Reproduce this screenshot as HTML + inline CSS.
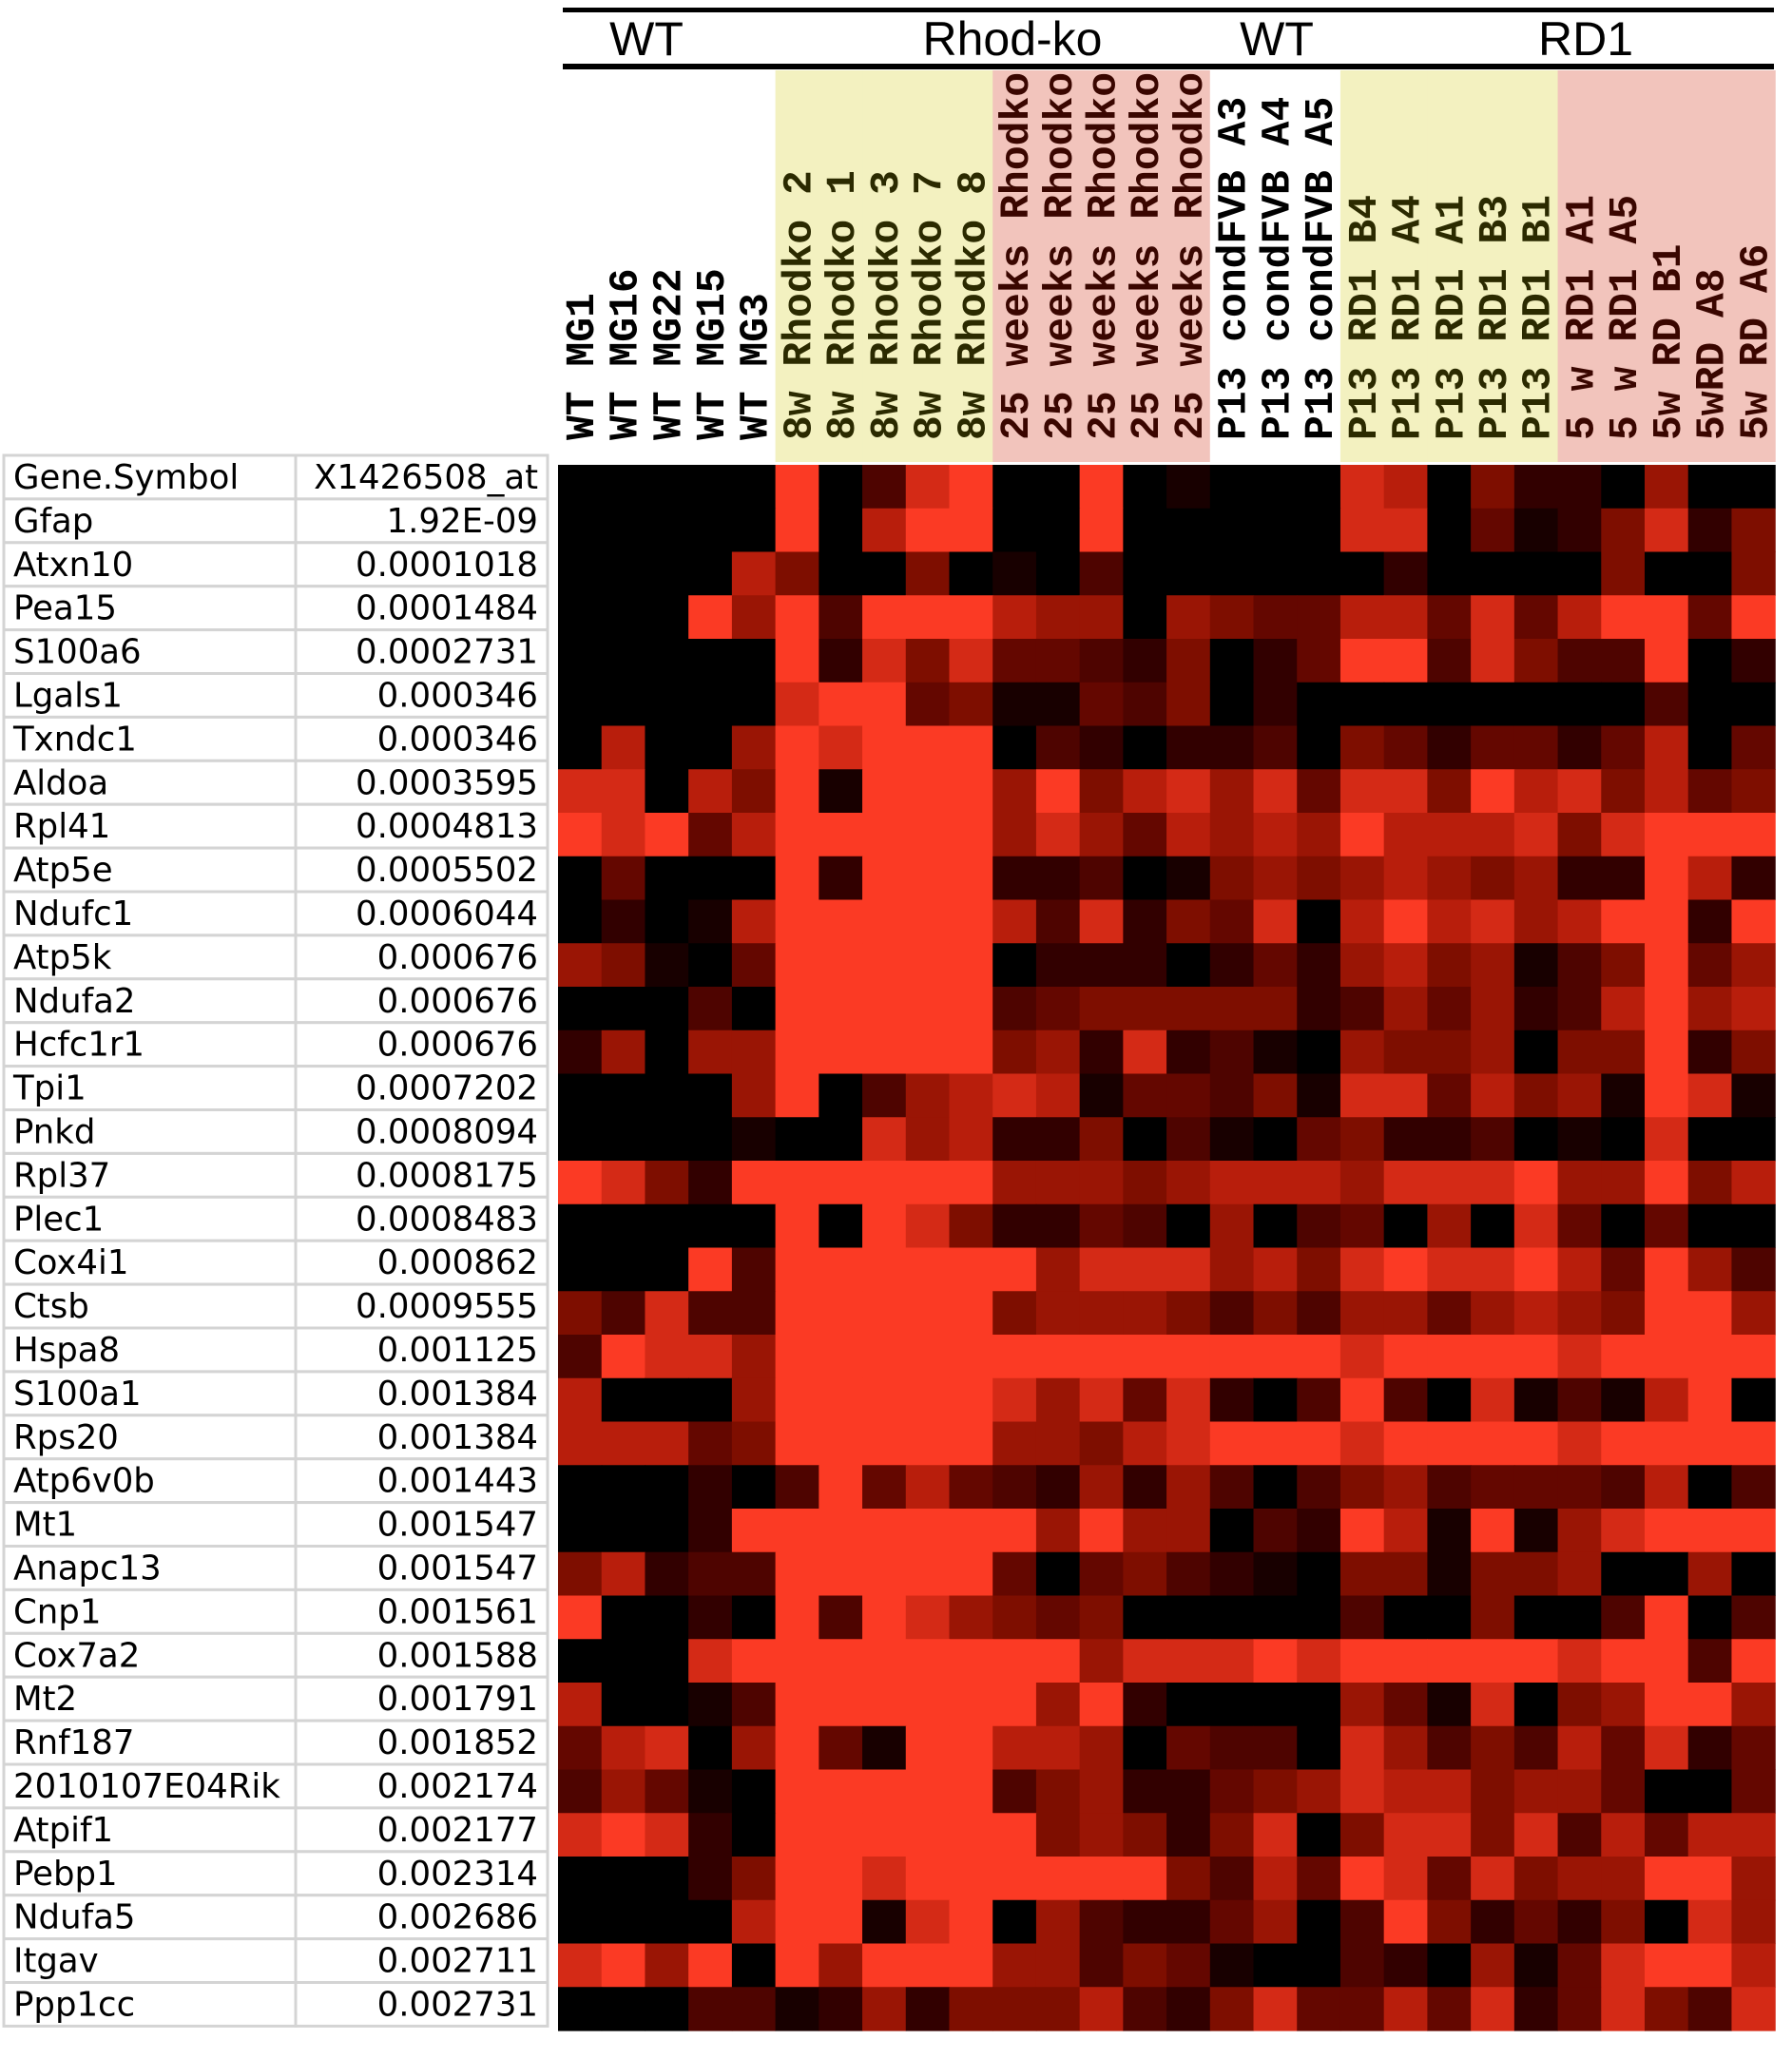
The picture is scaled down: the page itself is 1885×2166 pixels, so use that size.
<!DOCTYPE html>
<html><head><meta charset="utf-8"><style>
html,body{margin:0;padding:0;background:#fff;}
svg{display:block;}
</style></head><body>
<svg id="chart" width="1885" height="2166" viewBox="0 0 1885 2166" xmlns="http://www.w3.org/2000/svg">
<defs><clipPath id="labclip"><rect x="580" y="74" width="1300" height="410"/></clipPath></defs>
<g id="bg"></g>
<g id="heat"></g>
<g id="labels" clip-path="url(#labclip)"></g>
<g id="table"></g>
<g id="hdr"></g>
</svg>
<script>
const genes = ["Gene.Symbol","Gfap","Atxn10","Pea15","S100a6","Lgals1","Txndc1","Aldoa","Rpl41","Atp5e","Ndufc1","Atp5k","Ndufa2","Hcfc1r1","Tpi1","Pnkd","Rpl37","Plec1","Cox4i1","Ctsb","Hspa8","S100a1","Rps20","Atp6v0b","Mt1","Anapc13","Cnp1","Cox7a2","Mt2","Rnf187","2010107E04Rik","Atpif1","Pebp1","Ndufa5","Itgav","Ppp1cc"];
const pvals = ["X1426508_at","1.92E-09","0.0001018","0.0001484","0.0002731","0.000346","0.000346","0.0003595","0.0004813","0.0005502","0.0006044","0.000676","0.000676","0.000676","0.0007202","0.0008094","0.0008175","0.0008483","0.000862","0.0009555","0.001125","0.001384","0.001384","0.001443","0.001547","0.001547","0.001561","0.001588","0.001791","0.001852","0.002174","0.002177","0.002314","0.002686","0.002711","0.002731"];
const samples = ["WT MG1","WT MG16","WT MG22","WT MG15","WT MG3","8w Rhodko 2","8w Rhodko 1","8w Rhodko 3","8w Rhodko 7","8w Rhodko 8","25 weeks Rhodko","25 weeks Rhodko","25 weeks Rhodko","25 weeks Rhodko","25 weeks Rhodko","P13 condFVB A3","P13 condFVB A4","P13 condFVB A5","P13 RD1 B4","P13 RD1 A4","P13 RD1 A1","P13 RD1 B3","P13 RD1 B1","5 w RD1 A1","5 w RD1 A5","5w RD B1","5wRD A8","5w RD A6"];
const sampleGroup = [0,0,0,0,0,1,1,1,1,1,2,2,2,2,2,0,0,0,1,1,1,1,1,2,2,2,2,2];
const groupNames = ["WT","Rhod-ko","WT","RD1"];
const levels = [
[0,0,0,0,0,9,0,3,8,9,0,0,9,0,1,0,0,0,8,7,0,5,2,2,0,6,0,0],
[0,0,0,0,0,9,0,7,9,9,0,0,9,0,0,0,0,0,8,8,0,4,1,2,5,8,2,5],
[0,0,0,0,7,5,0,0,5,0,1,0,3,0,0,0,0,0,0,2,0,0,0,0,5,0,0,5],
[0,0,0,9,6,9,3,9,9,9,7,6,6,0,6,5,4,4,7,7,4,8,4,7,9,9,4,9],
[0,0,0,0,0,9,2,8,5,8,4,4,3,2,5,0,2,4,9,9,3,8,5,3,3,9,0,2],
[0,0,0,0,0,8,9,9,4,5,1,1,4,3,5,0,2,0,0,0,0,0,0,0,0,3,0,0],
[0,7,0,0,6,9,8,9,9,9,0,3,2,0,2,2,3,0,5,4,2,4,4,2,4,7,0,4],
[8,8,0,7,5,9,1,9,9,9,6,9,5,7,8,6,8,4,8,8,5,9,7,8,5,7,4,5],
[9,8,9,4,7,9,9,9,9,9,6,8,6,4,7,6,7,6,9,7,7,7,8,5,8,9,9,9],
[0,4,0,0,0,9,2,9,9,9,2,2,3,0,1,5,6,5,6,7,6,5,6,2,2,9,7,2],
[0,2,0,1,7,9,9,9,9,9,7,3,8,2,5,4,8,0,7,9,7,8,6,7,9,9,2,9],
[6,5,1,0,4,9,9,9,9,9,0,2,2,2,0,2,4,2,6,7,5,6,1,3,5,9,4,6],
[0,0,0,3,0,9,9,9,9,9,3,4,5,5,5,5,5,2,3,6,4,6,2,3,7,9,6,7],
[2,6,0,6,6,9,9,9,9,9,5,6,2,8,2,3,1,0,6,5,5,6,0,5,5,9,2,5],
[0,0,0,0,6,9,0,3,6,7,8,7,1,4,4,3,5,1,8,8,4,7,5,6,1,9,8,1],
[0,0,0,0,1,0,0,8,6,7,2,2,5,0,3,1,0,4,5,2,2,3,0,1,0,8,0,0],
[9,8,5,2,9,9,9,9,9,9,6,6,6,5,6,7,7,7,6,8,8,8,9,6,6,9,5,7],
[0,0,0,0,0,9,0,9,8,5,2,2,4,3,0,6,0,3,4,0,6,0,8,4,0,4,0,0],
[0,0,0,9,3,9,9,9,9,9,9,6,8,8,8,6,7,5,8,9,8,8,9,7,4,9,6,3],
[5,3,8,3,3,9,9,9,9,9,5,6,6,6,5,3,5,3,6,6,4,6,7,6,5,9,9,6],
[3,9,8,8,6,9,9,9,9,9,9,9,9,9,9,9,9,9,8,9,9,9,9,8,9,9,9,9],
[7,0,0,0,6,9,9,9,9,9,8,6,8,4,8,2,0,3,9,3,0,8,1,3,1,7,9,0],
[7,7,7,4,5,9,9,9,9,9,6,6,5,7,8,9,9,9,8,9,9,9,9,8,9,9,9,9],
[0,0,0,2,0,3,9,4,7,4,3,2,6,2,6,3,0,3,5,6,3,4,4,4,3,7,0,3],
[0,0,0,2,9,9,9,9,9,9,9,6,9,6,6,0,3,2,9,7,1,9,1,6,8,9,9,9],
[5,7,2,3,3,9,9,9,9,9,4,0,4,5,3,2,1,0,5,5,1,5,5,6,0,0,6,0],
[9,0,0,2,0,9,3,9,8,6,5,4,5,0,0,0,0,0,3,0,0,5,0,0,3,9,0,3],
[0,0,0,8,9,9,9,9,9,9,9,9,6,8,8,8,9,8,9,9,9,9,9,8,9,9,3,9],
[7,0,0,1,3,9,9,9,9,9,9,6,9,2,0,0,0,0,6,4,1,8,0,5,6,9,9,6],
[4,7,8,0,6,9,4,1,9,9,7,7,6,0,4,3,3,0,8,6,3,5,3,7,4,8,2,4],
[3,6,4,1,0,9,9,9,9,9,3,5,6,2,2,4,5,6,8,7,7,5,6,6,4,0,0,4],
[8,9,8,2,0,9,9,9,9,9,9,5,6,5,2,5,8,0,5,8,8,5,8,3,7,4,7,7],
[0,0,0,2,5,9,9,8,9,9,9,9,9,9,5,3,7,4,9,8,4,8,5,6,6,9,9,6],
[0,0,0,0,7,9,9,1,8,9,0,6,3,2,2,4,6,0,3,9,5,2,4,2,5,0,8,6],
[8,9,6,9,0,9,6,9,9,9,6,6,3,5,4,1,0,0,3,2,0,6,1,4,8,9,9,7],
[0,0,0,3,3,1,2,6,2,5,5,5,7,3,2,5,8,4,4,7,4,8,2,4,8,5,3,8]
];
const NS="http://www.w3.org/2000/svg";
const palette=["#000000","#180000","#320000","#4e0400","#640700","#7e0e00","#9a1505","#b81e0c","#d42a16","#fb3a24"];
const hx0=587, hw=45.72, hy0=489, hh=45.75;
function xCol(c){return hx0+c*hw;}
function yRow(r){return hy0+r*hh;}
function colorOf(v){return palette[Math.max(0,Math.min(9,Math.round(v)))];}
function mk(tag,attrs,parent){const e=document.createElementNS(NS,tag);for(const k in attrs)e.setAttribute(k,attrs[k]);parent.appendChild(e);return e;}
const bgG=document.getElementById('bg'), heat=document.getElementById('heat'), lab=document.getElementById('labels'), tab=document.getElementById('table'), hdr=document.getElementById('hdr');
const bgFill=["#ffffff","#f3f1c0","#f2c4bc"];
const txtFill=["#000000","#2b2a00","#3a0600"];
for(let c=0;c<samples.length;c++){
  const r=mk('rect',{x:xCol(c),y:74,width:hw+0.6,height:412,fill:bgFill[sampleGroup[c]]},bgG);
  
  
}
for(let r=0;r<levels.length;r++){
  for(let c=0;c<levels[r].length;c++){
    const e=mk('rect',{x:xCol(c),y:yRow(r),width:hw+0.6,height:hh+0.6,fill:colorOf(levels[r][c])},heat);
    
    
  }
}
for(let c=0;c<samples.length;c++){
  const cx=xCol(c)+hw/2+14, cy=463;
  const t=mk('text',{x:cx,y:cy,transform:'rotate(-90 '+cx+' '+cy+')','font-family':'"Liberation Mono", monospace','font-weight':'bold','font-size':'43',fill:txtFill[sampleGroup[c]]},lab);
  t.textContent=samples[c];
  
  
}
for(let r=0;r<genes.length;r++){
  const y=479+r*45.9;
  const a=mk('rect',{x:4,y:y,width:307,height:45.9,fill:'#fff',stroke:'#d4d4d4','stroke-width':3},tab);
  
  
  const b=mk('rect',{x:311,y:y,width:265,height:45.9,fill:'#fff',stroke:'#d4d4d4','stroke-width':3},tab);
  
  
  const t1=mk('text',{x:14,y:y+35,'font-family':'"DejaVu Sans", sans-serif','font-size':'35.5',fill:'#000'},tab);
  t1.textContent=genes[r];
  
  
  const t2=mk('text',{x:566,y:y+35,'text-anchor':'end','font-family':'"DejaVu Sans", sans-serif','font-size':'35.5',fill:'#000'},tab);
  t2.textContent=pvals[r];
  
  
}
const l1=mk('rect',{x:592,y:8,width:1274,height:5,fill:'#000'},hdr);


const l2=mk('rect',{x:592,y:67,width:1274,height:6,fill:'#000'},hdr);


const groupCx=[680,1065,1343,1668];
for(let g=0;g<groupNames.length;g++){
  const t=mk('text',{x:groupCx[g],y:58,'text-anchor':'middle','font-family':'"Liberation Sans", sans-serif','font-size':'50',fill:'#000'},hdr);
  t.textContent=groupNames[g];
  
  
}
</script>
</body></html>
